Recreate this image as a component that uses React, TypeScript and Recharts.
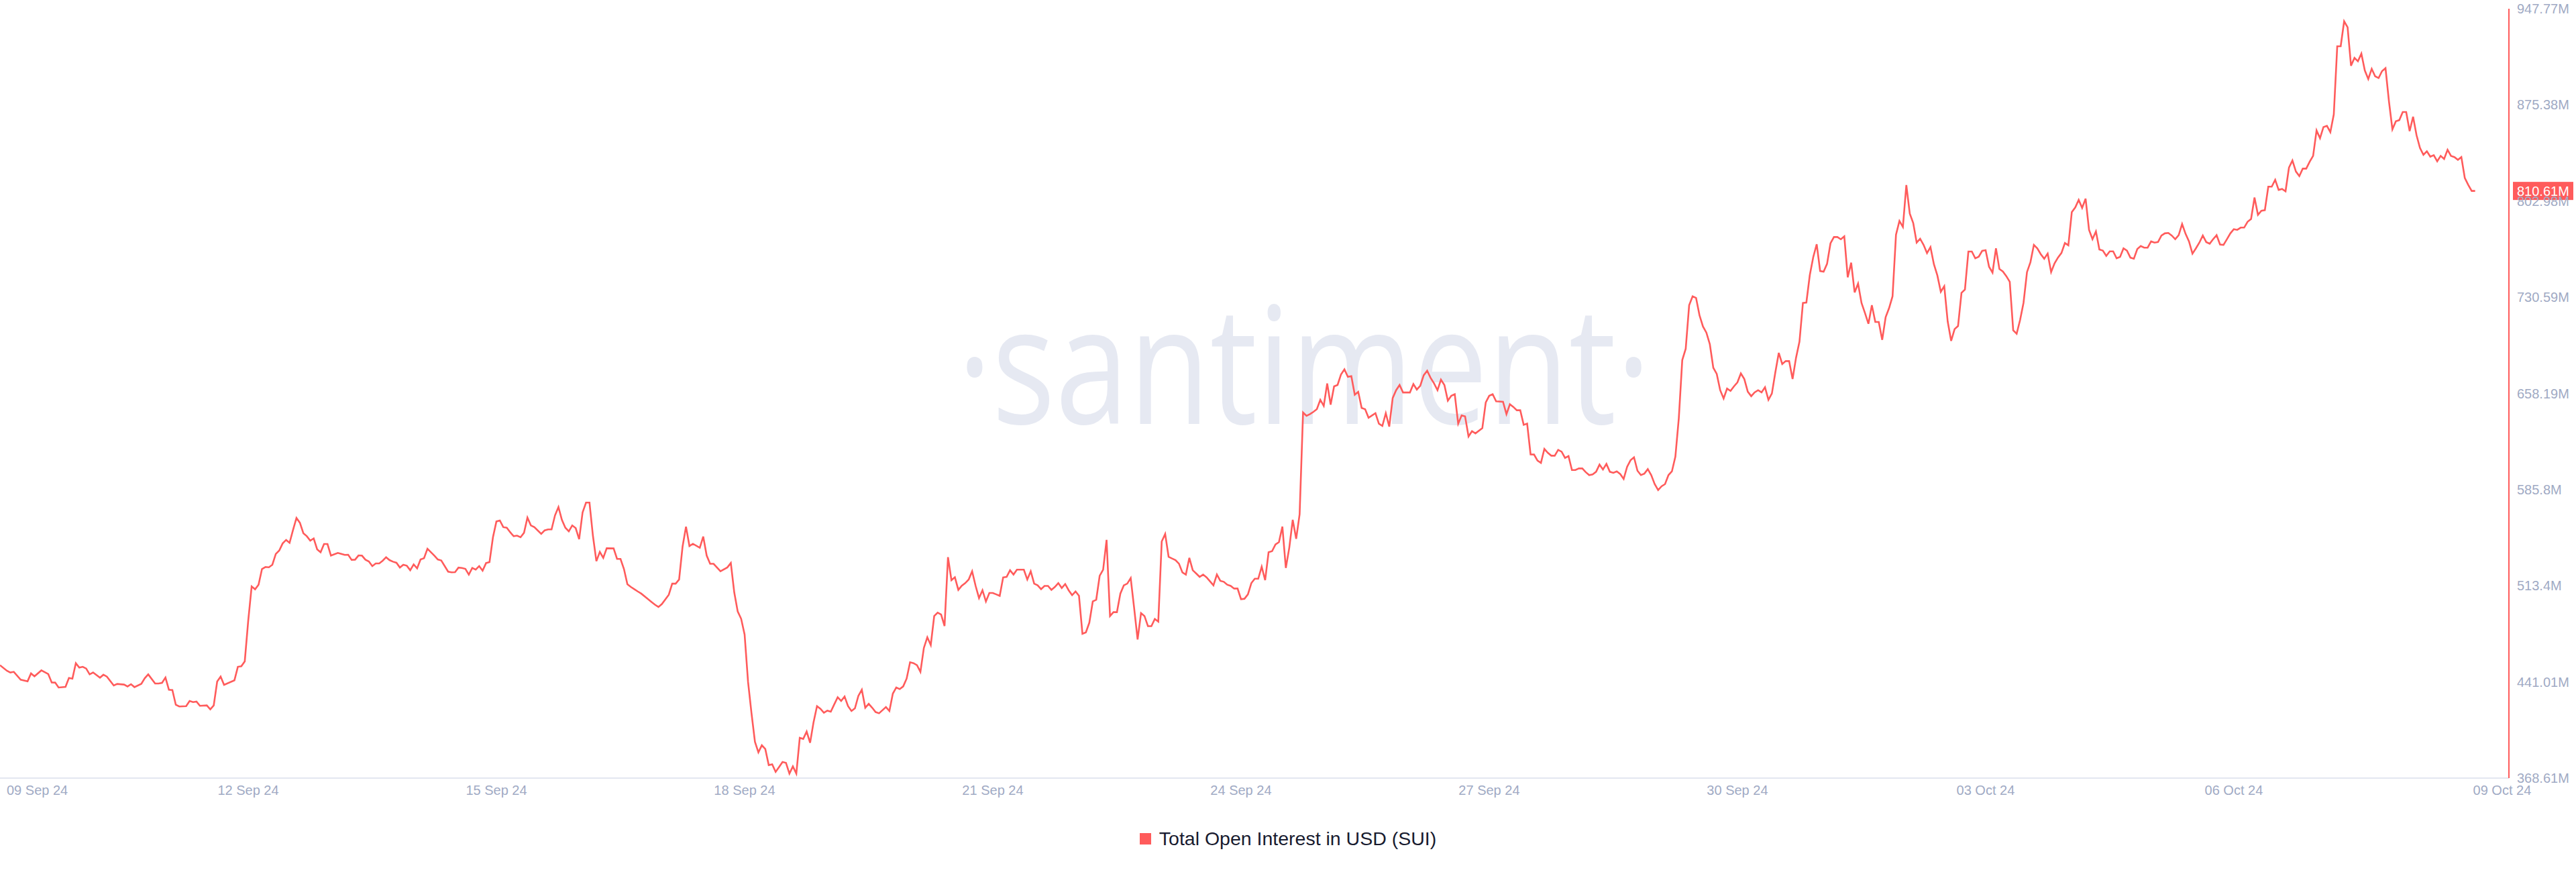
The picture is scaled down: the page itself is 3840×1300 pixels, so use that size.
import React from "react";
import { LineChart, Line, XAxis, YAxis, ReferenceLine } from "recharts";

// hours since 09 Sep 24 00:00 (UTC)
const hourOffsets = [
  0, 2, 3, 4, 6, 8, 9, 10, 12, 14,
  15, 16, 17, 19, 20, 21, 22, 23, 24, 25,
  26, 27, 29, 30, 31, 33, 34, 36, 37, 38,
  39, 41, 42, 43, 45, 46, 47, 48, 49, 50,
  51, 52, 54, 55, 56, 57, 58, 60, 61, 62,
  63, 64, 65, 68, 69, 70, 71, 72, 73, 74,
  75, 76, 77, 78, 79, 80, 81, 82, 83, 84,
  85, 86, 87, 88, 89, 90, 91, 92, 93, 94,
  95, 96, 98, 99, 100, 101, 102, 103, 104, 105,
  106, 107, 108, 109, 110, 111, 112, 113, 114, 115,
  116, 117, 118, 119, 120, 121, 122, 123, 124, 126,
  127, 128, 130, 131, 132, 133, 134, 135, 136, 137,
  138, 139, 140, 141, 142, 143, 144,
  145, 146, 147, 148, 149, 150, 151, 152, 153, 154,
  155, 157, 158, 159, 160, 161, 162, 163, 164, 165,
  166, 167, 168, 169, 170, 171, 172, 173, 174, 175,
  176, 178, 179, 180, 181, 182, 183, 184, 185, 186,
  188, 189, 190, 191, 192, 194, 195, 196, 197, 198,
  199, 200, 201, 203, 204, 205, 206, 207, 209, 211,
  212, 213, 214, 215, 216, 217, 218, 219, 220, 221,
  222, 223, 224, 225, 226, 227, 228, 229, 230, 231,
  232, 233, 234, 235, 236, 237, 238, 239, 240, 241,
  242, 243, 244, 245, 246, 247, 248, 249, 250, 251,
  252, 253, 254, 255, 257, 258, 259, 260, 261, 262,
  263, 264, 265, 266, 267, 268, 269, 270, 271, 272,
  273, 274, 275, 276, 277, 278, 279, 280, 281, 282,
  283, 284, 285, 286, 287, 288,
  289, 290, 291, 292, 293, 294, 295, 297, 298, 299,
  300, 301, 302, 303, 304, 305, 306, 307, 308, 309,
  310, 311, 312, 313, 314, 315, 316, 317, 318, 319,
  320, 321, 322, 323, 324, 325, 326, 327, 328, 329,
  330, 331, 332, 333, 334, 335, 336, 337, 338, 339,
  340, 341, 342, 343, 344, 345, 346, 347, 348, 349,
  350, 351, 352, 353, 354, 355, 356, 357, 358, 359,
  360, 361, 362, 363, 364, 365, 366, 367, 368, 369,
  370, 371, 372, 373, 374, 375, 376, 377, 378, 379,
  380, 381, 382, 383, 384, 385, 386, 387, 388, 389,
  390, 391, 392, 393, 394, 395, 396, 397, 398, 399,
  400, 401, 402, 403, 404, 405, 406, 407, 409, 410,
  411, 412, 413, 414, 415, 416, 417, 418, 419, 420,
  421, 422, 423, 424, 425, 426, 427, 428, 430, 431,
  432,
  433, 434, 436, 437, 438, 439, 440, 441, 442, 443,
  444, 445, 446, 447, 448, 449, 450, 451, 452, 453,
  454, 455, 456, 457, 458, 459, 460, 461, 462, 463,
  464, 465, 466, 467, 468, 469, 470, 471, 472, 473,
  474, 475, 476, 477, 478, 479, 480, 481, 482, 483,
  484, 485, 486, 487, 488, 489, 490, 491, 492, 493,
  494, 495, 496, 497, 498, 499, 500, 501, 502, 503,
  504, 505, 506, 507, 508, 509, 510, 511, 512, 513,
  514, 515, 516, 517, 518, 519, 520, 521, 522, 523,
  524, 525, 526, 527, 528, 529, 530, 531, 532, 533,
  534, 535, 536, 537, 538, 539, 540, 541, 542, 543,
  544, 545, 546, 547, 548, 549, 550, 551, 552, 553,
  554, 555, 556, 557, 558, 559, 560, 561, 562, 563,
  564, 565, 566, 567, 568, 569, 570, 571, 572, 573,
  574, 575, 576,
  577, 578, 579, 580, 581, 582, 583, 584, 585, 586,
  587, 588, 589, 590, 591, 592, 593, 594, 595, 596,
  597, 598, 599, 600, 601, 602, 603, 604, 605, 606,
  607, 608, 609, 610, 611, 612, 613, 614, 615, 616,
  617, 618, 619, 620, 621, 622, 623, 624, 625, 626,
  627, 628, 629, 630, 631, 632, 633, 634, 635, 636,
  637, 638, 639, 640, 641, 642, 643, 644, 645, 646,
  647, 648, 649, 650, 651, 652, 653, 654, 655, 656,
  657, 658, 659, 660, 661, 662, 663, 664, 665, 666,
  667, 668, 669, 670, 671, 672, 673, 674, 675, 676,
  677, 678, 679, 680, 681, 682, 683, 684, 685, 686,
  687, 688, 689, 690, 691, 692, 693, 694, 695, 696,
  697, 698, 699, 700, 701, 702, 703, 704, 705, 706,
  707, 708, 709, 710, 711, 712, 713, 714, 715, 716,
  717, 718,
];

// Total Open Interest in USD (SUI), millions
const openInterestM = [
  453.6, 449.4, 448.1, 448.6, 442.7, 441.5, 447.4, 445.2, 449.7, 446.9,
  440.6, 440.5, 436.8, 437.3, 444.0, 443.5, 455.1, 451.8, 452.4, 451.1,
  446.7, 448.1, 444.2, 446.4, 445.0, 438.3, 439.5, 439.0, 437.6, 439.3,
  437.1, 439.6, 443.8, 446.7, 439.8, 439.8, 440.3, 444.3, 435.1, 434.9,
  423.8, 422.5, 422.8, 426.7, 425.8, 426.2, 423.0, 423.3, 420.3, 423.3,
  441.3, 445.0, 438.8, 442.2, 452.4, 452.8, 456.5, 487.0, 512.9, 510.7,
  514.2, 526.0, 527.5, 527.3, 529.2, 537.3, 539.9, 545.3, 547.9, 545.7,
  555.4, 564.4, 560.8, 552.9, 550.7, 547.3, 549.0, 540.8, 538.6, 544.8,
  544.8, 536.1, 538.1, 537.4, 536.6, 536.7, 532.9, 533.0, 536.2, 536.1,
  533.0, 531.7, 528.2, 530.2, 530.2, 532.2, 534.9, 532.7, 531.5, 530.7,
  527.1, 529.2, 528.5, 525.1, 529.5, 526.5, 533.2, 534.1, 541.3, 536.1,
  533.2, 532.4, 524.0, 523.5, 523.6, 527.1, 526.8, 526.1, 521.8, 526.8,
  525.6, 528.2, 524.8, 530.5, 531.2, 549.9, 561.8,
  562.5, 557.5, 557.1, 553.7, 550.7, 551.1, 549.9, 553.2, 564.7, 558.8,
  557.5, 552.4, 555.1, 555.8, 555.8, 566.4, 572.6, 563.0, 557.1, 554.4,
  558.8, 556.8, 548.4, 568.6, 576.0, 576.0, 551.0, 531.9, 538.9, 534.4,
  541.6, 541.5, 533.6, 533.6, 526.0, 514.5, 512.5, 510.8, 509.1, 507.5,
  503.3, 501.2, 499.1, 497.4, 499.6, 506.6, 515.0, 515.0, 518.1, 542.8,
  557.9, 543.3, 545.0, 542.0, 550.4, 536.1, 529.9, 529.9, 524.3, 527.2,
  530.5, 508.3, 494.0, 488.5, 476.7, 441.0, 417.4, 395.9, 388.0, 393.3,
  390.5, 378.4, 379.0, 373.3, 377.0, 380.7, 380.1, 372.0, 377.4, 372.0,
  398.9, 398.1, 403.6, 395.2, 410.7, 422.8, 420.8, 417.8, 419.4, 418.6,
  424.1, 429.5, 426.7, 430.0, 422.8, 419.1, 421.1, 430.5, 435.1, 421.6,
  424.5, 421.6, 418.3, 417.4, 422.1, 419.1, 432.2, 436.8, 435.6, 437.6,
  443.5, 455.8, 455.1, 453.6, 448.6, 466.6, 474.6, 468.8, 490.6, 493.2,
  491.8, 483.1, 534.9, 517.6, 519.8, 510.3, 513.4, 515.4, 518.1, 524.3,
  513.4, 504.1, 510.0, 501.6, 508.0, 508.0,
  506.9, 505.8, 519.7, 520.1, 525.1, 521.8, 525.5, 525.5, 518.1, 524.3,
  515.0, 513.7, 510.8, 513.3, 513.3, 510.3, 512.5, 515.4, 511.7, 514.7,
  510.0, 506.3, 509.1, 505.8, 477.2, 478.3, 485.6, 501.6, 502.9, 520.9,
  525.5, 547.9, 490.6, 493.5, 493.5, 507.5, 513.7, 515.0, 519.2, 496.5,
  473.0, 492.8, 490.6, 483.0, 483.0, 488.4, 486.4, 546.7, 552.4, 535.2,
  533.9, 532.7, 530.0, 523.4, 521.8, 534.4, 525.1, 522.6, 520.1, 521.8,
  519.7, 516.7, 513.7, 521.8, 517.1, 516.4, 514.2, 513.3, 511.3, 511.3,
  503.3, 503.6, 506.9, 515.4, 518.7, 518.7, 527.7, 517.6, 538.6, 539.4,
  544.5, 546.2, 557.9, 526.8, 542.0, 563.0, 548.7, 567.2, 643.8, 641.3,
  642.6, 644.3, 646.3, 653.4, 648.8, 665.7, 649.7, 663.5, 664.5, 672.4,
  676.3, 670.7, 671.2, 657.2, 659.4, 647.2, 646.3, 639.9, 641.6, 643.3,
  635.4, 633.7, 643.3, 633.2, 654.7, 660.6, 664.5, 658.9, 658.9, 665.2,
  661.1, 664.0, 671.9, 675.3, 669.9, 665.7, 660.6, 668.5, 664.5, 652.7,
  656.4, 657.6, 635.4, 641.6, 640.9, 625.8, 629.8, 628.1, 632.0, 651.4,
  656.4,
  657.6, 652.2, 651.9, 642.6, 650.0, 648.0, 645.5, 645.5, 634.5, 635.4,
  612.3, 612.2, 607.6, 605.9, 616.4, 613.5, 611.3, 611.3, 615.7, 614.3,
  609.6, 611.0, 600.5, 600.5, 601.7, 601.7, 598.9, 596.7, 597.2, 599.2,
  604.6, 600.9, 605.1, 599.2, 598.4, 599.5, 597.5, 593.8, 602.9, 607.9,
  610.1, 600.0, 596.7, 597.8, 601.2, 596.7, 589.9, 585.4, 588.3, 589.9,
  596.7, 599.5, 610.6, 639.6, 683.3, 691.8, 724.6, 731.3, 730.1, 717.0,
  708.6, 703.9, 695.2, 677.5, 672.9, 660.6, 654.4, 661.8, 660.1, 663.5,
  666.5, 673.2, 669.0, 659.5, 656.1, 659.0, 660.6, 659.0, 662.8, 653.4,
  658.1, 674.1, 688.7, 680.3, 682.5, 682.5, 669.0, 685.0, 697.2, 726.3,
  726.6, 747.3, 760.8, 770.5, 750.3, 749.8, 755.7, 771.2, 775.9, 775.9,
  774.2, 776.4, 745.6, 756.6, 734.2, 740.9, 726.3, 718.7, 710.6, 724.6,
  712.0, 712.0, 698.5, 715.6, 722.4, 731.3, 777.6, 788.0, 783.5, 815.0,
  793.6, 786.4, 771.7, 774.6, 770.0, 763.8, 768.3, 755.4, 747.0, 734.7,
  738.9, 712.3, 697.7, 706.6, 708.9, 733.9, 736.4, 765.0, 765.0, 759.9,
  761.1, 765.5, 766.0,
  753.5, 749.1, 767.4, 751.8, 750.0, 746.5, 742.2, 705.7, 703.1, 713.5,
  726.5, 749.5, 757.0, 770.0, 767.4, 763.0, 759.6, 763.4, 749.5, 756.1,
  760.5, 763.9, 771.4, 769.7, 794.7, 798.2, 803.9, 797.8, 804.8, 781.3,
  774.3, 780.1, 766.5, 765.7, 761.7, 765.1, 765.1, 759.9, 761.0, 767.4,
  765.7, 760.4, 759.6, 766.9, 769.1, 767.9, 767.9, 772.6, 771.7, 772.1,
  777.0, 778.7, 779.0, 777.0, 774.3, 777.3, 785.7, 778.3, 772.6, 763.4,
  767.4, 771.7, 777.0, 772.1, 770.9, 774.3, 777.3, 770.3, 770.0, 774.3,
  778.7, 781.8, 781.3, 783.0, 783.0, 787.4, 789.5, 805.6, 792.6, 795.7,
  796.1, 813.8, 813.8, 819.0, 811.4, 812.1, 810.3, 828.2, 833.5, 825.3,
  821.8, 827.4, 827.4, 832.6, 837.0, 856.1, 850.3, 858.7, 859.6, 854.9,
  868.2, 919.5, 919.5, 938.3, 933.8, 904.8, 910.8, 908.2, 914.0, 901.3,
  894.9, 902.5, 896.9, 895.6, 900.8, 903.0, 878.0, 857.0, 863.0, 863.9,
  870.0, 870.0, 855.6, 866.5, 852.6, 843.0, 837.8, 840.4, 836.4, 837.5,
  832.9, 837.0, 834.7, 841.6, 837.0, 836.1, 834.0, 836.1, 820.4, 815.2,
  810.6, 810.61,
];

const tickHours = [0, 72, 144, 216, 288, 360, 432, 504, 576, 648, 720];
const tickLabels = [
  "09 Sep 24", "12 Sep 24", "15 Sep 24", "18 Sep 24", "21 Sep 24", "24 Sep 24",
  "27 Sep 24", "30 Sep 24", "03 Oct 24", "06 Oct 24", "09 Oct 24",
];
const yTicks = [368.61, 441.01, 513.4, 585.8, 658.19, 730.59, 802.98, 875.38, 947.77];
const seriesName = "Total Open Interest in USD (SUI)";
const latestLabel = "810.61M";

const RED = "#ff5b5b";
const AXIS_TEXT = "#9faac4";
const FONT = '"Liberation Sans", Arial, sans-serif';

const data = hourOffsets.map((h, i) => ({ h, oi: openInterestM[i] }));
const lastValue = openInterestM[openInterestM.length - 1];

function XTick(props: any) {
  const { x, y, payload, index } = props;
  const label = tickLabels[tickHours.indexOf(payload.value)];
  let dx = 0;
  let anchor = "middle";
  // first and last labels are nudged inside like the original
  if (index === 0) {
    anchor = "start";
    dx = 10;
  } else if (index === tickHours.length - 1) {
    dx = 30;
  }
  return (
    <text x={x + dx} y={y} dy="0.71em" textAnchor={anchor} fill={AXIS_TEXT} fontSize={20} fontFamily={FONT}>
      {label}
    </text>
  );
}

function LastValueBadge(props: any) {
  const { viewBox } = props;
  const x = viewBox.x + viewBox.width + 6;
  const y = viewBox.y;
  return (
    <g>
      <rect x={x} y={y - 13.5} width={90} height={27} fill={RED} />
      <text x={x + 6} y={y} dy="0.355em" fill="#ffffff" fontSize={20} fontFamily={FONT}>
        {latestLabel}
      </text>
    </g>
  );
}

export default function App() {
  return (
    <div style={{ position: "absolute", left: 0, top: 0, width: 3840, height: 1300, background: "#ffffff" }}>
      {/* watermark */}
      <svg width={3840} height={1300} style={{ position: "absolute", left: 0, top: 0 }}>
        <text
          x={1427}
          y={632}
          fontFamily='"Open Sans", sans-serif'
          fontSize={243}
          fill="#e6e9f2"
          textLength={1034}
          lengthAdjust="spacingAndGlyphs"
        >
          ·santiment·
        </text>
      </svg>

      <LineChart width={3840} height={1300} data={data} margin={{ top: 13, right: 0, bottom: 100, left: 0 }}>
        <XAxis
          dataKey="h"
          type="number"
          domain={[0, 727.8]}
          ticks={tickHours}
          interval={0}
          height={40}
          tickLine={false}
          tickMargin={5}
          axisLine={{ stroke: "#e3e7f0", strokeWidth: 2 }}
          tick={<XTick />}
          allowDataOverflow
        />
        <YAxis
          orientation="right"
          width={100}
          domain={[368.61, 947.77]}
          ticks={yTicks}
          interval={0}
          tickLine={false}
          tickMargin={6}
          axisLine={{ stroke: RED, strokeWidth: 2 }}
          tick={{ fill: AXIS_TEXT, fontSize: 20, fontFamily: FONT }}
          tickFormatter={(v: number) => `${v}M`}
          allowDataOverflow
        />
        <Line type="linear" dataKey="oi" stroke={RED} strokeWidth={2.6} dot={false} isAnimationActive={false} />
        <ReferenceLine y={lastValue} stroke="none" label={<LastValueBadge />} />
      </LineChart>

      {/* legend */}
      <div
        style={{
          position: "absolute",
          left: 0,
          top: 1234,
          width: 3840,
          height: 32,
          display: "flex",
          justifyContent: "center",
          alignItems: "center",
          fontFamily: FONT,
          fontSize: 28.5,
          color: "#181b2f",
        }}
      >
        <span style={{ display: "inline-block", width: 17, height: 17, background: RED, marginRight: 12 }} />
        <span>{seriesName}</span>
      </div>
    </div>
  );
}
